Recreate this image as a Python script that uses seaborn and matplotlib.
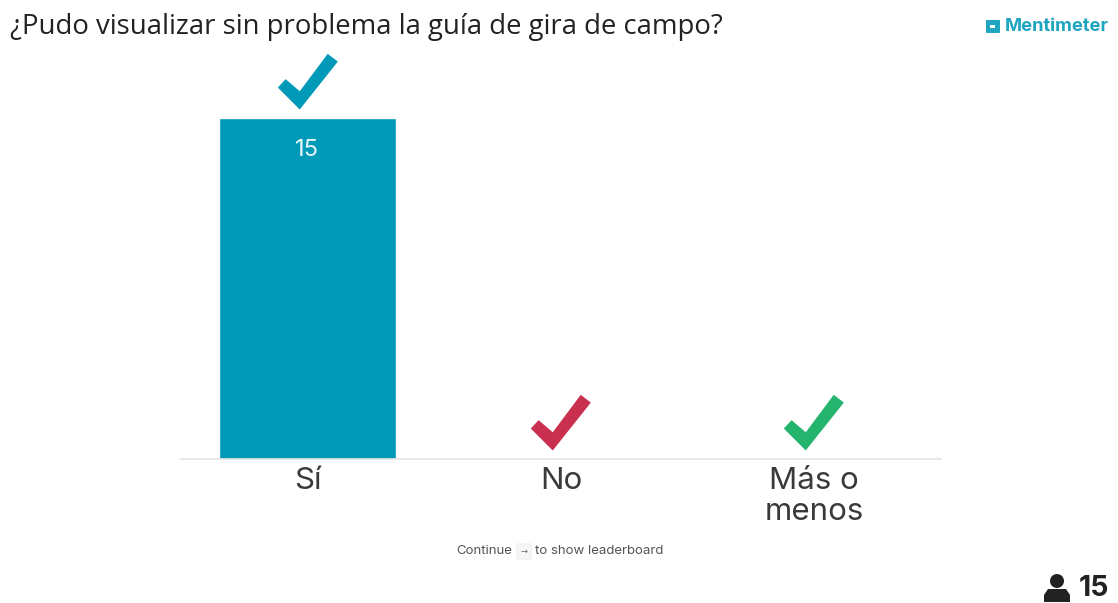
import matplotlib
matplotlib.use("Agg")
import matplotlib.pyplot as plt
import seaborn as sns
import pandas as pd
from matplotlib.path import Path
from matplotlib.patches import Circle, FancyBboxPatch, PathPatch
from matplotlib.transforms import ScaledTranslation, IdentityTransform

categories = ["Sí", "No", "Más o\nmenos"]
votes = [15, 0, 0]
colors = ["#0199B8", "#C92F4F", "#25B46E"]
title = "¿Pudo visualizar sin problema la guía de gira de campo?"
brand = "Mentimeter"
participants = "15"

W, H, DPI = 1118, 603, 100
sns.set_theme(style="white")
plt.rcParams["font.family"] = ["Inter", "DejaVu Sans"]

fig = plt.figure(figsize=(W / DPI, H / DPI), dpi=DPI, facecolor="white")
ax = fig.add_axes([181 / W, (H - 459) / H, 760 / W, 459 / H])
df = pd.DataFrame({"cat": categories, "votes": votes})
sns.barplot(data=df, x="cat", y="votes", hue="cat", palette=colors, legend=False,
            width=0.7, saturation=1, ax=ax)
ax.set_xlim(-0.5, 2.5)
ax.set_ylim(0, 15 * 459 / 341)
ax.set_xlabel("")
ax.set_ylabel("")
ax.set_yticks([])
ax.set_facecolor("none")
for s in ["top", "left", "right"]:
    ax.spines[s].set_visible(False)
ax.spines["bottom"].set_color("#E4E4E4")
ax.spines["bottom"].set_linewidth(1.2)
ax.tick_params(axis="x", length=0, pad=6)
ax.set_xticks(range(len(categories)))
ax.set_xticklabels(categories, fontsize=22.5, color="#3A3A3A", linespacing=1.12, family="Inter")

# check marks above every bar
check = Path([(60, 85), (90, 62), (-23, -80), (-88, -15), (-65, 10), (-23, -26), (60, 85)], closed=True)
lift = ScaledTranslation(-1 / DPI, 36 / DPI, fig.dpi_scale_trans)
for i, (v, c) in enumerate(zip(votes, colors)):
    ax.plot([i], [v], marker=check, ms=43.7, mfc=c, mec=c, mew=0, ls="none",
            transform=ax.transData + lift, clip_on=False)
    if v > 0:
        ax.annotate(str(v), (i, v), xytext=(-0.5, -32 * 72 / DPI), textcoords="offset points",
                    ha="center", va="center", color="#E8F6F9", fontsize=17)

# page furniture, in pixel positions
def px(x, y):
    return x / W, 1 - y / H

fig.text(*px(10, 27), title, fontsize=19.8, color="#222222", va="center", ha="left",
         family="Open Sans")
fig.text(*px(1005, 26.5), brand, fontsize=13.2, color="#1FA5C0", va="center", ha="left",
         family="Inter", fontweight="bold")
T = IdentityTransform()
fig.add_artist(FancyBboxPatch((987, H - 32), 12, 11, boxstyle="round,pad=1", fc="#1FA5C0", ec="none", transform=T))
fig.add_artist(FancyBboxPatch((990, H - 28), 5, 3, boxstyle="round,pad=0", fc="white", ec="none", transform=T))

fig.text(*px(512, 551), "Continue", fontsize=9.5, color="#555555", ha="right", va="center")
fig.add_artist(FancyBboxPatch((518, H - 558), 12, 13, boxstyle="round,pad=1", fc="#F7F7F7", ec="#ECECEC", lw=0.8, transform=T))
fig.text(*px(524, 551), "→", fontsize=6, color="#666666", ha="center", va="center", family="DejaVu Sans")
fig.text(*px(535, 551), "to show leaderboard", fontsize=9.5, color="#555555", ha="left", va="center")

# participant icon
fig.add_artist(Circle((1057, H - 581), 7, fc="#222222", ec="none", transform=T))
body = Path([(1044, H - 602), (1070, H - 602), (1070, H - 595), (1066, H - 589), (1048, H - 589), (1044, H - 595), (1044, H - 602)], closed=True)
fig.add_artist(PathPatch(body, fc="#222222", ec="none", transform=T))
fig.text(*px(1079, 589), participants, fontsize=20.5, fontweight="bold", color="#222222", ha="left", va="center",
         family="Inter")

fig.savefig("out.png", dpi=DPI)
